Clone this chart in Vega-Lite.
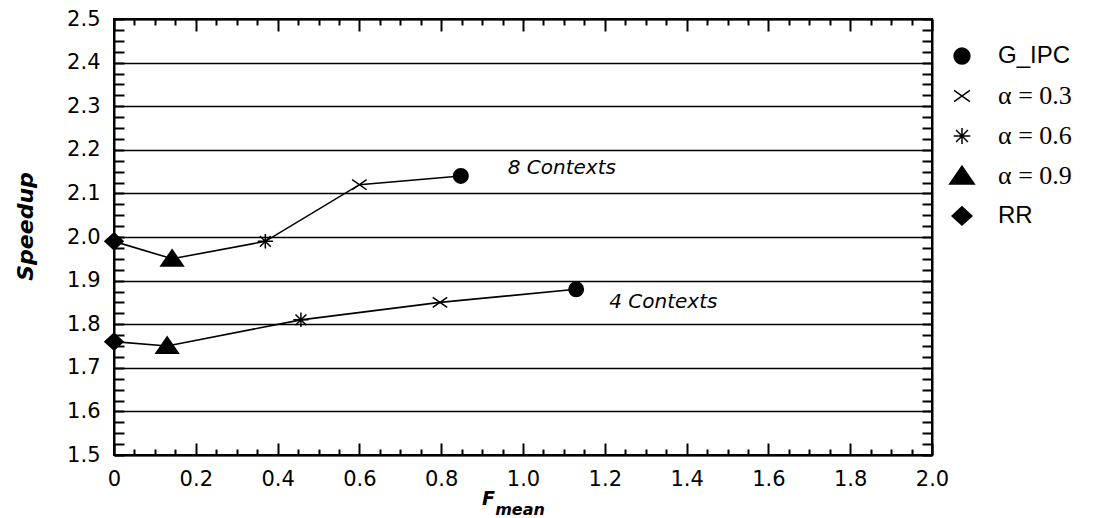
{
  "$schema": "https://vega.github.io/schema/vega-lite/v6.json",
  "width": 818,
  "height": 436,
  "autosize": {"type": "none"},
  "padding": {"left": 114, "top": 19, "right": 161, "bottom": 63},
  "background": "white",
  "config": {
    "view": {"stroke": "black", "strokeWidth": 2},
    "axis": {"domainColor": "black", "domainWidth": 2, "tickColor": "black", "tickWidth": 2, "labelFont": "DejaVu Sans", "labelFontSize": 21, "labelColor": "black", "labelFlush": false, "labelOverlap": false}
  },
  "datasets": {
    "pts": [
      {"F": 0.0, "S": 1.99, "type": "RR", "ctx": "8"},
      {"F": 0.142, "S": 1.95, "type": "α = 0.9", "ctx": "8"},
      {"F": 0.37, "S": 1.99, "type": "α = 0.6", "ctx": "8"},
      {"F": 0.60, "S": 2.12, "type": "α = 0.3", "ctx": "8"},
      {"F": 0.848, "S": 2.14, "type": "G_IPC", "ctx": "8"},
      {"F": 0.0, "S": 1.76, "type": "RR", "ctx": "4"},
      {"F": 0.13, "S": 1.75, "type": "α = 0.9", "ctx": "4"},
      {"F": 0.457, "S": 1.81, "type": "α = 0.6", "ctx": "4"},
      {"F": 0.797, "S": 1.85, "type": "α = 0.3", "ctx": "4"},
      {"F": 1.13, "S": 1.88, "type": "G_IPC", "ctx": "4"}
    ],
    "notes": [
      {"F": 1.095, "S": 2.158, "label": "8 Contexts"},
      {"F": 1.343, "S": 1.85, "label": "4 Contexts"}
    ],
    "leg": [
      {"F": 2.0733, "LF": 2.1614, "S": 2.4151, "type": "G_IPC", "fam": "sans"},
      {"F": 2.0733, "LF": 2.1614, "S": 2.3234, "type": "α = 0.3", "fam": "serif"},
      {"F": 2.0733, "LF": 2.1614, "S": 2.2317, "type": "α = 0.6", "fam": "serif"},
      {"F": 2.0733, "LF": 2.1614, "S": 2.1399, "type": "α = 0.9", "fam": "serif"},
      {"F": 2.0733, "LF": 2.1614, "S": 2.0482, "type": "RR", "fam": "sans"}
    ]
  },
  "resolve": {"axis": {"x": "independent", "y": "independent"}},
  "layer": [
    {
      "data": {"name": "pts"},
      "mark": {"type": "line", "color": "black", "strokeWidth": 1.6},
      "encoding": {
        "x": {"field": "F", "type": "quantitative", "scale": {"domain": [0, 2], "nice": false, "zero": false},
          "axis": {"orient": "bottom", "title": null, "grid": false,
            "values": [0,0.05,0.1,0.15,0.2,0.25,0.3,0.35,0.4,0.45,0.5,0.55,0.6,0.65,0.7,0.75,0.8,0.85,0.9,0.95,1,1.05,1.1,1.15,1.2,1.25,1.3,1.35,1.4,1.45,1.5,1.55,1.6,1.65,1.7,1.75,1.8,1.85,1.9,1.95,2],
            "tickSize": {"condition": {"test": "abs(datum.value*5 - round(datum.value*5)) < 0.001", "value": -12}, "value": -6},
            "labelPadding": 25,
            "labelExpr": "abs(datum.value*5 - round(datum.value*5)) < 0.001 ? (datum.value == 0 ? '0' : format(datum.value, '.1f')) : ''"}},
        "y": {"field": "S", "type": "quantitative", "scale": {"domain": [1.5, 2.5], "nice": false, "zero": false},
          "axis": {"orient": "left", "title": "Speedup", "titleFont": "DejaVu Sans", "titleFontSize": 22, "titleFontWeight": "bold", "titleFontStyle": "italic", "titleColor": "black", "titleX": -89, "titleY": 207, "titleAngle": -90, "titleBaseline": "middle", "titleAlign": "center",
            "values": [1.5,1.525,1.55,1.575,1.6,1.625,1.65,1.675,1.7,1.725,1.75,1.775,1.8,1.825,1.85,1.875,1.9,1.925,1.95,1.975,2,2.025,2.05,2.075,2.1,2.125,2.15,2.175,2.2,2.225,2.25,2.275,2.3,2.325,2.35,2.375,2.4,2.425,2.45,2.475,2.5],
            "tickSize": -10,
            "labelPadding": 24,
            "grid": true, "gridColor": "black", "gridWidth": 1.6,
            "gridOpacity": {"condition": {"test": "abs(datum.value*10 - round(datum.value*10)) < 0.001", "value": 1}, "value": 0},
            "labelExpr": "abs(datum.value*10 - round(datum.value*10)) < 0.001 ? format(datum.value, '.1f') : ''"}},
        "detail": {"field": "ctx"}
      }
    },
    {
      "data": {"name": "pts"},
      "mark": {"type": "point", "filled": true, "color": "black", "stroke": "black", "strokeWidth": 1.5, "size": 210, "opacity": 1},
      "encoding": {
        "x": {"field": "F", "type": "quantitative",
          "axis": {"orient": "top", "title": null, "labels": false, "grid": false,
            "values": [0,0.05,0.1,0.15,0.2,0.25,0.3,0.35,0.4,0.45,0.5,0.55,0.6,0.65,0.7,0.75,0.8,0.85,0.9,0.95,1,1.05,1.1,1.15,1.2,1.25,1.3,1.35,1.4,1.45,1.5,1.55,1.6,1.65,1.7,1.75,1.8,1.85,1.9,1.95,2],
            "tickSize": {"condition": {"test": "abs(datum.value*5 - round(datum.value*5)) < 0.001", "value": -12}, "value": -6}}},
        "y": {"field": "S", "type": "quantitative",
          "axis": {"orient": "right", "title": null, "labels": false, "grid": false,
            "values": [1.5,1.525,1.55,1.575,1.6,1.625,1.65,1.675,1.7,1.725,1.75,1.775,1.8,1.825,1.85,1.875,1.9,1.925,1.95,1.975,2,2.025,2.05,2.075,2.1,2.125,2.15,2.175,2.2,2.225,2.25,2.275,2.3,2.325,2.35,2.375,2.4,2.425,2.45,2.475,2.5],
            "tickSize": -10}},
        "shape": {"field": "type", "type": "nominal",
          "scale": {"domain": ["G_IPC", "α = 0.3", "α = 0.6", "α = 0.9", "RR"],
            "range": ["circle", "M-1,-0.7L1,0.7M-1,0.7L1,-0.7", "M-1.05,0L1.05,0M0,-1L0,1M-0.75,-0.75L0.75,0.75M-0.75,0.75L0.75,-0.75", "M0,-1.25L1.55,1L-1.55,1Z", "M0,-1.15L1.25,0L0,1.15L-1.25,0Z"]},
          "legend": null}
      }
    },
    {
      "data": {"name": "leg"},
      "mark": {"type": "point", "filled": true, "color": "black", "stroke": "black", "strokeWidth": 1.5, "size": 250, "opacity": 1},
      "encoding": {
        "x": {"field": "F", "type": "quantitative", "axis": null},
        "y": {"field": "S", "type": "quantitative", "axis": null},
        "shape": {"field": "type", "type": "nominal", "legend": null}
      }
    },
    {
      "data": {"name": "leg"},
      "transform": [{"filter": "datum.fam == 'sans'"}],
      "mark": {"type": "text", "font": "Liberation Sans", "fontSize": 24, "color": "black", "align": "left", "baseline": "middle"},
      "encoding": {
        "x": {"field": "LF", "type": "quantitative", "axis": null},
        "y": {"field": "S", "type": "quantitative", "axis": null},
        "text": {"field": "type"}
      }
    },
    {
      "data": {"name": "leg"},
      "transform": [{"filter": "datum.fam == 'serif'"}],
      "mark": {"type": "text", "font": "'Liberation Serif', 'DejaVu Serif', serif", "fontSize": 26, "color": "black", "align": "left", "baseline": "middle"},
      "encoding": {
        "x": {"field": "LF", "type": "quantitative", "axis": null},
        "y": {"field": "S", "type": "quantitative", "axis": null},
        "text": {"field": "type"}
      }
    },
    {
      "data": {"name": "notes"},
      "mark": {"type": "text", "font": "DejaVu Sans", "fontStyle": "italic", "fontSize": 20, "color": "black", "align": "center", "baseline": "middle"},
      "encoding": {
        "x": {"field": "F", "type": "quantitative", "axis": null},
        "y": {"field": "S", "type": "quantitative", "axis": null},
        "text": {"field": "label"}
      }
    },
    {
      "data": {"values": [
        {"F": 0.9, "S": 1.3853, "label": "F", "sz": "big"},
        {"F": 0.932, "S": 1.3624, "label": "mean", "sz": "small"}
      ]},
      "mark": {"type": "text", "font": "DejaVu Sans", "fontStyle": "italic", "fontWeight": "bold", "color": "black", "align": "left", "baseline": "alphabetic"},
      "encoding": {
        "x": {"field": "F", "type": "quantitative", "axis": null},
        "y": {"field": "S", "type": "quantitative", "axis": null},
        "text": {"field": "label"},
        "size": {"field": "sz", "type": "nominal", "scale": {"domain": ["big", "small"], "range": [19, 16]}, "legend": null}
      }
    }
  ]
}
